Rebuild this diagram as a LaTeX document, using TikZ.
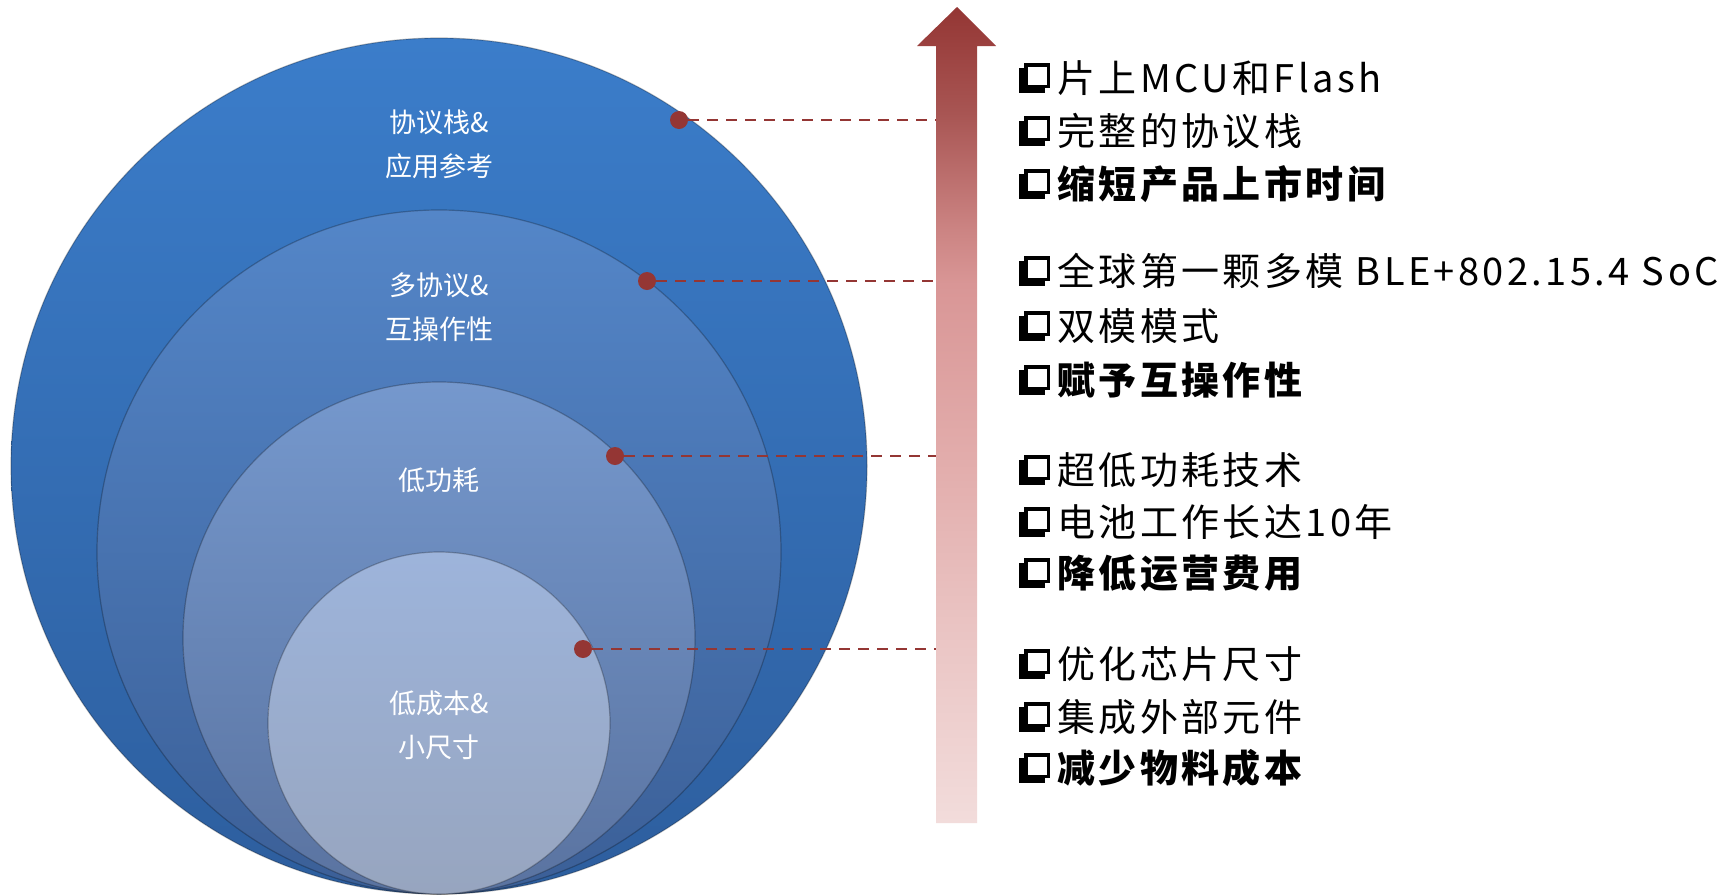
\documentclass[tikz,border=0pt]{standalone}
\usepackage{fontspec}
\newfontfamily\cjk{Noto Sans CJK SC}
\newfontfamily\cjkls[LetterSpace=9]{Noto Sans CJK SC}
\definecolor{c1t}{HTML}{3B7DCA}
\definecolor{c1b}{HTML}{2D5E9E}
\definecolor{c2t}{HTML}{5486C8}
\definecolor{c2b}{HTML}{3B5F97}
\definecolor{c3t}{HTML}{7598CD}
\definecolor{c3b}{HTML}{5A73A0}
\definecolor{c4t}{HTML}{9DB4DB}
\definecolor{c4b}{HTML}{97A5BF}
\definecolor{dotred}{HTML}{943634}
\definecolor{ar0}{HTML}{943634}
\definecolor{ar1}{HTML}{A85553}
\definecolor{ar2}{HTML}{CB8382}
\definecolor{ar3}{HTML}{D99696}
\definecolor{ar4}{HTML}{E2ACAB}
\definecolor{ar5}{HTML}{EAC4C3}
\definecolor{ar6}{HTML}{F2DCDB}
\pgfdeclareverticalshading{arrshade}{100bp}{color(0bp)=(ar6); color(25bp)=(ar6);
  color(37bp)=(ar5); color(47.5bp)=(ar4); color(58bp)=(ar3); color(61.5bp)=(ar2);
  color(68.5bp)=(ar1); color(75bp)=(ar0); color(100bp)=(ar0)}
\newcommand\cb{\makebox[38pt][l]{\raisebox{-1pt}{%
  \rlap{\rule{26pt}{25pt}}%
  \rlap{\hspace{5pt}\raisebox{5pt}{\rule{26pt}{25pt}}}%
  \rlap{\hspace{8.5pt}\raisebox{8.5pt}{\color{white}\rule{19pt}{18pt}}}}}}
\begin{document}
\begin{tikzpicture}[x=1pt,y=-1pt,
  ring/.style={draw=black, draw opacity=0.25, line width=1.2pt},
  lbl/.style={text=white, align=center, inner sep=0pt, font=\cjk\fontsize{27}{44}\selectfont},
  dot/.style={circle, fill=dotred, minimum size=18pt, inner sep=0pt},
  lead/.style={draw=dotred, dash pattern=on 11pt off 8pt, line width=2.6pt},
  item/.style={anchor=base west, inner sep=0pt, font=\cjkls\fontsize{38}{44}\selectfont},
  bitem/.style={item, font=\cjkls\bfseries\fontsize{38}{44}\selectfont}]
\useasboundingbox (0,0) rectangle (1735,895);
\fill[white] (0,0) rectangle (1735,895);
% concentric circles
\path[top color=c1t, bottom color=c1b, ring] (439,466) circle (428);
\path[top color=c2t, bottom color=c2b, ring] (439,552) circle (342);
\path[top color=c3t, bottom color=c3b, ring] (439,638) circle (256);
\path[top color=c4t, bottom color=c4b, ring] (439,723) circle (171);
% labels
\node[lbl] (l1) at (439,144) {协议栈\&\\应用参考};
\node[lbl] (l2) at (439,307) {多协议\&\\互操作性};
\node[lbl] (l3) at (439,480) {低功耗};
\node[lbl] (l4) at (439,725) {低成本\&\\小尺寸};
% dots and leaders
\node[dot] (d1) at (679,120) {};
\node[dot] (d2) at (647,281) {};
\node[dot] (d3) at (615,456) {};
\node[dot] (d4) at (583,649) {};
\coordinate (e1) at (937,120);
\coordinate (e2) at (937,281);
\coordinate (e3) at (937,456);
\coordinate (e4) at (937,649);
\draw[lead] (d1) -- (e1);
\draw[lead] (d2) -- (e2);
\draw[lead] (d3) -- (e3);
\draw[lead] (d4) -- (e4);
% arrow
\path[shading=arrshade]
  (957,7) -- (996,46) -- (977,46) -- (977,823) -- (936,823) -- (936,46) -- (917,46) -- cycle;
% text items
\node[item]  (a1) at (1019,92)  {\cb 片上MCU和Flash};
\node[item]  (a2) at (1019,145) {\cb 完整的协议栈};
\node[bitem] (a3) at (1019,198) {\cb 缩短产品上市时间};
\node[item]  (b1) at (1019,285) {\cb 全球第一颗多模 BLE+802.15.4 SoC};
\node[item]  (b2) at (1019,340) {\cb 双模模式};
\node[bitem] (b3) at (1019,394) {\cb 赋予互操作性};
\node[item]  (c1) at (1019,484) {\cb 超低功耗技术};
\node[item]  (c2) at (1019,536) {\cb 电池工作长达10年};
\node[bitem] (c3) at (1019,587) {\cb 降低运营费用};
\node[item]  (f1) at (1019,678) {\cb 优化芯片尺寸};
\node[item]  (f2) at (1019,731) {\cb 集成外部元件};
\node[bitem] (f3) at (1019,782) {\cb 减少物料成本};
\end{tikzpicture}
\end{document}
